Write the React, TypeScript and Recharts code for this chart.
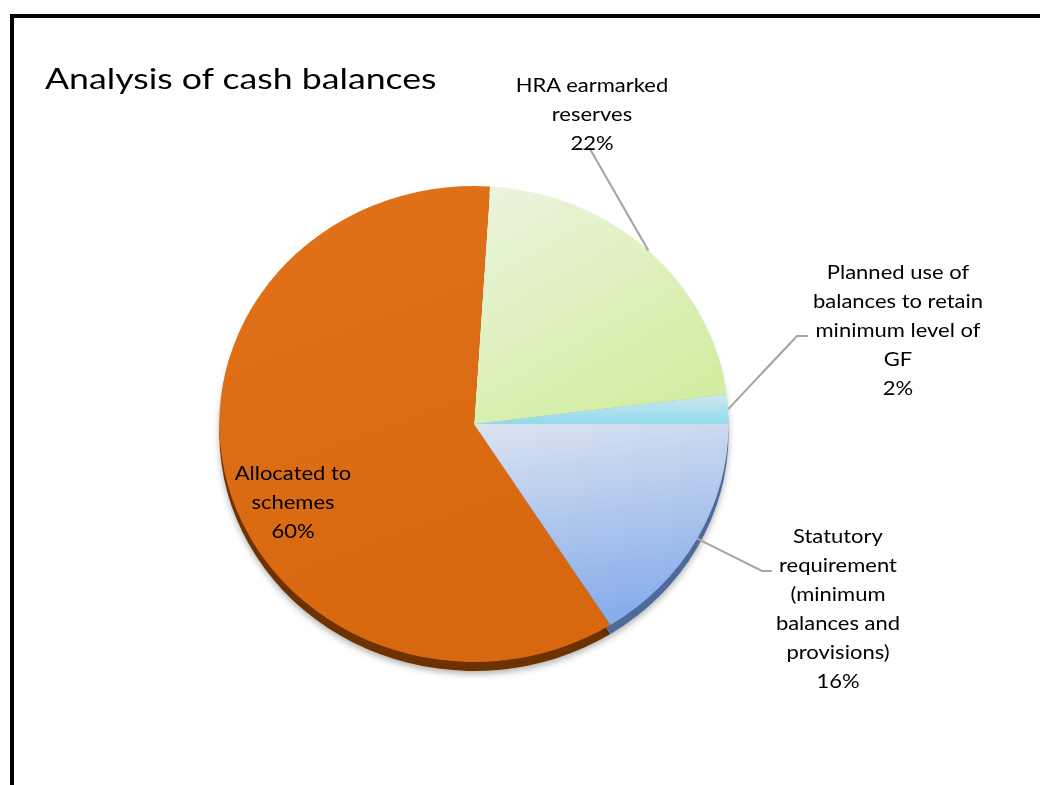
import React from 'react';
import { PieChart, Pie, Cell } from 'recharts';

// ---------------------------------------------------------------------------
// Data
// ---------------------------------------------------------------------------
const categories = [
  'Planned use of balances to retain minimum level of GF',
  'HRA earmarked reserves',
  'Allocated to schemes',
  'Statutory requirement (minimum balances and provisions)',
];
const labelLines = [
  ['Planned use of', 'balances to retain', 'minimum level of', 'GF'],
  ['HRA earmarked', 'reserves'],
  ['Allocated to', 'schemes'],
  ['Statutory', 'requirement', '(minimum', 'balances and', 'provisions)'],
];
const shares = [2, 22, 60, 16];

const topFills = ['url(#gPlanned)', 'url(#gHra)', 'url(#gAlloc)', 'url(#gStat)'];
const sideFills = ['#5f9fb0', '#9fb27a', '#6e3205', '#4d6a98'];

// ---------------------------------------------------------------------------
// Layout
// ---------------------------------------------------------------------------
const W = 1040;
const H = 785;
const SX = 1.07; // pie is slightly wider than tall in the reference
const CX = 474;
const CY = 424;
const R = 238;
const DEPTH = 9;
const LINE_H = 29;
const LABEL_FONT = 20;
const LABEL_STRETCH = 1.1;

// label block centre + leader elbows, relative to pie centre (page px)
const labelLayout: { text: number[]; elbow?: number[]; end?: number[] }[] = [
  { text: [424, -95], elbow: [323, -88], end: [334, -88] },
  { text: [118, -311], elbow: [116, -275], end: [102, -275] },
  { text: [-181, 77] },
  { text: [364, 183], elbow: [288, 147], end: [298, 147] },
];

const data = categories.map((name, i) => ({ name, value: shares[i] }));

const renderLabel = (props: any) => {
  const { cx, cy, midAngle, outerRadius, index, value } = props;
  const lay = labelLayout[index];
  const rad = (midAngle * Math.PI) / 180;
  const ex = cx + outerRadius * Math.cos(rad);
  const ey = cy - outerRadius * Math.sin(rad);
  const lines = [...labelLines[index], `${value}%`];
  const tx = cx + lay.text[0] / SX;
  const ty = cy + lay.text[1];
  const top = ty - ((lines.length - 1) * LINE_H) / 2;
  return (
    <g key={`lbl-${index}`}>
      {lay.elbow && lay.end && (
        <polyline
          points={`${ex},${ey} ${cx + lay.elbow[0] / SX},${cy + lay.elbow[1]} ${cx + lay.end[0] / SX},${cy + lay.end[1]}`}
          fill="none"
          stroke="#A6A6A6"
          strokeWidth={2}
        />
      )}
      {lines.map((ln, i) => (
        <text
          key={i}
          transform={`translate(${tx},${top + i * LINE_H}) scale(${LABEL_STRETCH / SX},1)`}
          textAnchor="middle"
          dominantBaseline="central"
          fontFamily="Lato"
          fontSize={LABEL_FONT}
          fill="#000"
        >
          {ln}
        </text>
      ))}
    </g>
  );
};

export default function App(): React.JSX.Element {
  return (
    <div style={{ position: 'relative', width: W, height: H, overflow: 'hidden', background: '#fff' }}>
      <style>{'body{margin:0}'}</style>
      {/* frame (only left and top edges are inside the picture) */}
      <div
        style={{
          position: 'absolute',
          left: 10,
          top: 14,
          width: W + 20,
          height: H + 20,
          borderLeft: '4px solid #000',
          borderTop: '4px solid #000',
        }}
      />
      <div
        style={{
          position: 'absolute',
          left: 45,
          top: 61,
          fontFamily: 'Lato',
          fontSize: 29,
          lineHeight: '34px',
          color: '#000',
          whiteSpace: 'nowrap',
          transform: 'scaleX(1.23)',
          transformOrigin: '0 0',
        }}
      >
        Analysis of cash balances
      </div>
      <div style={{ position: 'absolute', left: 0, top: 0, transform: `scaleX(${SX})`, transformOrigin: '0 0' }}>
        <PieChart width={W / SX} height={H} margin={{ top: 0, right: 0, bottom: 0, left: 0 }}>
          <defs>
            <linearGradient id="gAlloc" x1="0" y1="0" x2="0.3" y2="1">
              <stop offset="0%" stopColor="#E1721A" />
              <stop offset="100%" stopColor="#D7680F" />
            </linearGradient>
            <linearGradient id="gHra" x1="0" y1="0" x2="0.6" y2="1">
              <stop offset="0%" stopColor="#ECF4DF" />
              <stop offset="100%" stopColor="#D2EDA2" />
            </linearGradient>
            <linearGradient id="gPlanned" x1="0" y1="0" x2="0" y2="1">
              <stop offset="0%" stopColor="#CFE8F0" />
              <stop offset="100%" stopColor="#8FDAEC" />
            </linearGradient>
            <linearGradient id="gStat" x1="0" y1="0" x2="0.2" y2="1">
              <stop offset="0%" stopColor="#DCE3F0" />
              <stop offset="100%" stopColor="#88AEEA" />
            </linearGradient>
            <filter id="rimShadow" x="-10%" y="-10%" width="120%" height="130%">
              <feDropShadow dx="0" dy="3" stdDeviation="3" floodColor="#000" floodOpacity="0.3" />
            </filter>
          </defs>
          <Pie
            data={data}
            dataKey="value"
            cx={CX / SX}
            cy={CY + DEPTH}
            outerRadius={R}
            startAngle={0}
            endAngle={360}
            stroke="none"
            isAnimationActive={false}
          >
            {data.map((_, i) => (
              <Cell key={`side-${i}`} fill={sideFills[i]} filter="url(#rimShadow)" />
            ))}
          </Pie>
          <Pie
            data={data}
            dataKey="value"
            cx={CX / SX}
            cy={CY}
            outerRadius={R}
            startAngle={0}
            endAngle={360}
            stroke="none"
            label={renderLabel}
            labelLine={false}
            isAnimationActive={false}
          >
            {data.map((_, i) => (
              <Cell key={`top-${i}`} fill={topFills[i]} />
            ))}
          </Pie>
        </PieChart>
      </div>
    </div>
  );
}
